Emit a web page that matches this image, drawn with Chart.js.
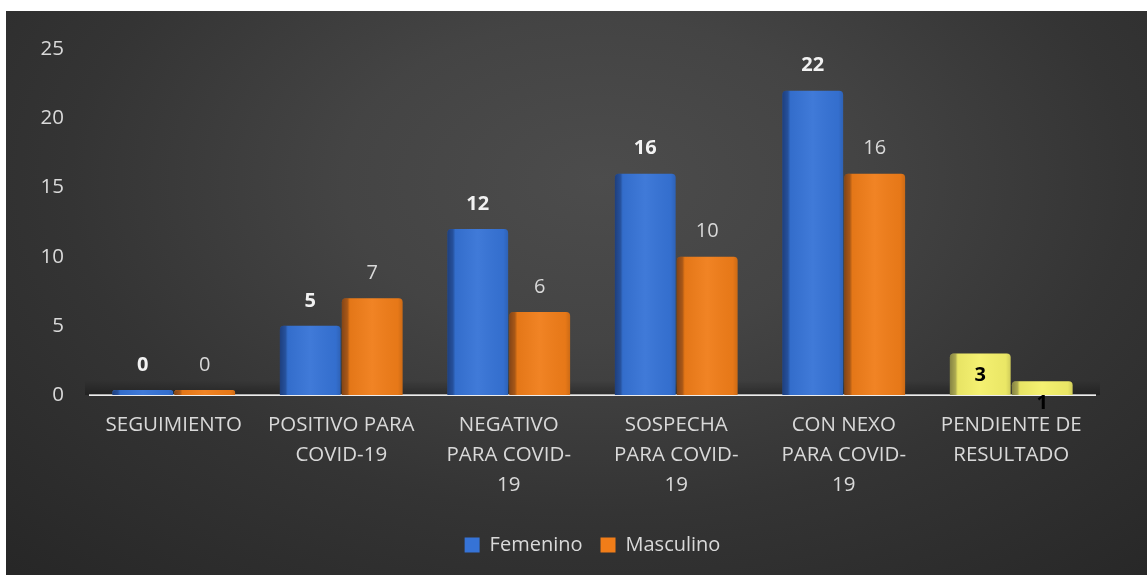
<!DOCTYPE html>
<html><head><meta charset="utf-8">
<script src="https://cdn.jsdelivr.net/npm/chart.js@4.4.1/dist/chart.umd.min.js"></script>
<style>
html,body{margin:0;padding:0;background:#fff;width:1147px;height:575px;overflow:hidden}
#wrap{position:absolute;left:6px;top:11px;width:1141px;height:564px;
background:radial-gradient(ellipse 75% 95% at 52% 30%, #4c4c4c 0%, #444 30%, #343434 62%, #272727 100%);}
canvas{display:block}
</style></head><body><div id="wrap"><canvas id="c" width="1141" height="564"></canvas></div>
<script>
const categories = [
  ['SEGUIMIENTO'],
  ['POSITIVO PARA', 'COVID-19'],
  ['NEGATIVO', 'PARA COVID-', '19'],
  ['SOSPECHA', 'PARA COVID-', '19'],
  ['CON NEXO', 'PARA COVID-', '19'],
  ['PENDIENTE DE', 'RESULTADO']
];
const femenino = [0, 5, 12, 16, 22, 3];
const masculino = [0, 7, 6, 10, 16, 1];
const yTicks = [0, 5, 10, 15, 20, 25];

const FONT = '"Open Sans", "Noto Sans", sans-serif';
const BLUE = '#3673d6', ORANGE = '#f07d19', YELLOW = '#f4f06a';
const lastIdx = categories.length - 1;

const floorPlugin = {
  id: 'floor',
  beforeDatasetsDraw(chart) {
    const {ctx, chartArea} = chart;
    const y0 = chart.scales.y.getPixelForValue(0);
    const g = ctx.createLinearGradient(0, y0 - 14, 0, y0);
    g.addColorStop(0, 'rgba(0,0,0,0)');
    g.addColorStop(1, 'rgba(0,0,0,0.28)');
    ctx.save();
    ctx.fillStyle = g;
    ctx.fillRect(chartArea.left - 5, y0 - 14, chartArea.right - chartArea.left + 10, 14);
    ctx.restore();
  }
};

const shadePlugin = {
  id: 'shade',
  afterDatasetsDraw(chart) {
    const ctx = chart.ctx;
    ctx.save();
    chart.data.datasets.forEach((ds, di) => {
      const meta = chart.getDatasetMeta(di);
      meta.data.forEach((bar) => {
        const p = bar.getProps(['x', 'y', 'base', 'width'], true);
        const left = p.x - p.width / 2;
        const h = p.base - p.y;
        if (h <= 0) return;
        const g = ctx.createLinearGradient(left, 0, left + p.width, 0);
        g.addColorStop(0, 'rgba(0,0,20,0.45)');
        g.addColorStop(0.09, 'rgba(0,0,20,0.30)');
        g.addColorStop(0.13, 'rgba(0,0,0,0.05)');
        g.addColorStop(0.5, 'rgba(255,255,255,0.05)');
        g.addColorStop(0.92, 'rgba(0,0,0,0.04)');
        g.addColorStop(1, 'rgba(0,0,0,0.15)');
        ctx.fillStyle = g;
        ctx.beginPath();
        ctx.roundRect(left, p.y, p.width, h, [4, 4, 0, 0]);
        ctx.fill();
      });
    });
    ctx.restore();
  }
};

const labelPlugin = {
  id: 'vlabels',
  afterDatasetsDraw(chart) {
    const ctx = chart.ctx;
    ctx.save();
    ctx.textAlign = 'center';
    ctx.textBaseline = 'middle';
    chart.data.datasets.forEach((ds, di) => {
      const meta = chart.getDatasetMeta(di);
      meta.data.forEach((bar, i) => {
        const v = ds.data[i];
        const p = bar.getProps(['x', 'y'], true);
        if (i === lastIdx) {
          ctx.fillStyle = '#000';
          ctx.font = 'bold 20px ' + FONT;
          ctx.fillText(String(v), p.x, p.y + 22);
        } else {
          ctx.fillStyle = ds.labelColor;
          ctx.font = (ds.labelBold ? 'bold ' : '') + '20px ' + FONT;
          ctx.fillText(String(v), p.x, p.y - 25);
        }
      });
    });
    ctx.restore();
  }
};

new Chart(document.getElementById('c'), {
  type: 'bar',
  data: {
    labels: categories,
    datasets: [
      {
        label: 'Femenino',
        data: femenino,
        backgroundColor: (c) => c.dataIndex === lastIdx ? YELLOW : BLUE,
        labelColor: '#f2f2f2',
        labelBold: true
      },
      {
        label: 'Masculino',
        data: masculino,
        backgroundColor: (c) => c.dataIndex === lastIdx ? YELLOW : ORANGE,
        labelColor: '#d9d9d9',
        labelBold: false
      }
    ]
  },
  options: {
    responsive: false,
    animation: false,
    layout: { padding: { top: 36, right: 52, bottom: 10, left: 0 } },
    datasets: {
      bar: {
        categoryPercentage: 0.74,
        barPercentage: 0.98,
        borderRadius: { topLeft: 4, topRight: 4, bottomLeft: 0, bottomRight: 0 },
        borderSkipped: 'bottom',
        minBarLength: 5
      }
    },
    scales: {
      x: {
        grid: { display: false, drawTicks: false },
        border: { display: true, color: '#ededed', width: 2 },
        ticks: {
          color: '#d9d9d9',
          font: { family: FONT, size: 20.5, lineHeight: 1.47 },
          padding: 15,
          maxRotation: 0,
          autoSkip: false
        },
        afterFit(s) { s.height = 122; }
      },
      y: {
        min: 0, max: 25,
        grid: { display: false, drawTicks: false },
        border: { display: false },
        afterBuildTicks(s) { s.ticks = yTicks.map(v => ({ value: v })); },
        ticks: {
          color: '#d9d9d9',
          font: { family: FONT, size: 20.5 },
          padding: 26
        },
        afterFit(s) { s.width = 84; }
      }
    },
    plugins: {
      legend: {
        position: 'bottom',
        fullSize: false,
        labels: {
          color: '#d9d9d9',
          font: { family: FONT, size: 20 },
          boxWidth: 15,
          boxHeight: 15,
          padding: 18
        }
      },
      tooltip: { enabled: false }
    }
  },
  plugins: [floorPlugin, shadePlugin, labelPlugin]
});
</script>
</body></html>
